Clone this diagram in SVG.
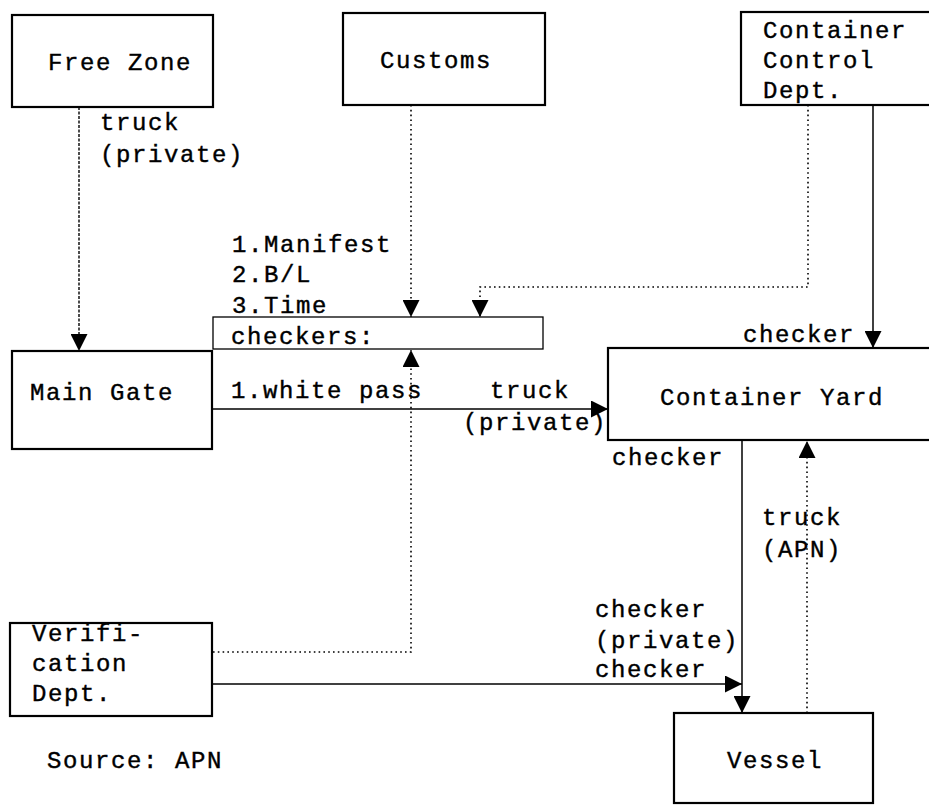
<svg xmlns="http://www.w3.org/2000/svg" width="929" height="805" viewBox="0 0 929 805">
  <style>
    .box { fill: #fff; stroke: #000; stroke-width: 2.2; }
    .thin { fill: none; stroke: #000; stroke-width: 1.3; }
    .solid { fill: none; stroke: #000; stroke-width: 1.5; }
    .dot { fill: none; stroke: #000; stroke-width: 1.6; stroke-dasharray: 1.6 3.2; }
    .dash { fill: none; stroke: #000; stroke-width: 1.4; stroke-dasharray: 3 1.5; }
    text { font-family: "Liberation Mono", "DejaVu Sans Mono", monospace; font-size: 24px; letter-spacing: 1.6px; fill: #000; stroke: #000; stroke-width: 0.4px; }
  </style>
  <defs>
    <marker id="arrow" viewBox="0 0 17 17" refX="17" refY="8.5" markerWidth="17" markerHeight="17" markerUnits="userSpaceOnUse" orient="auto">
      <path d="M0,0 L17,8.5 L0,17 z" fill="#000"/>
    </marker>
  </defs>

  <rect width="929" height="805" fill="#fff"/>

  <!-- connectors -->
  <g id="connectors">
    <!-- Free Zone to Main Gate -->
    <path class="dash" d="M79,107 V351" marker-end="url(#arrow)"/>
    <!-- Customs to checkers -->
    <path class="dot" d="M411,105 V317" marker-end="url(#arrow)"/>
    <!-- Container Control Dept. to checkers -->
    <path class="dot" d="M808,105 V287 H480 V317" marker-end="url(#arrow)"/>
    <!-- Container Control Dept. to Container Yard -->
    <path class="solid" d="M873,105 V348" marker-end="url(#arrow)"/>
    <!-- Main Gate to Container Yard -->
    <path class="solid" d="M212,409 H608" marker-end="url(#arrow)"/>
    <!-- Verification Dept. to checkers -->
    <path class="dot" d="M213,652 H411 V350" marker-end="url(#arrow)"/>
    <!-- Verification Dept. to Vessel -->
    <path class="solid" d="M212,684 H742" marker-end="url(#arrow)"/>
    <!-- Container Yard to Vessel -->
    <path class="solid" d="M742,440 V713" marker-end="url(#arrow)"/>
    <!-- Vessel to Container Yard -->
    <path class="dot" d="M807,713 V441" marker-end="url(#arrow)"/>
  </g>

  <!-- nodes -->
  <g id="free-zone">
    <rect class="box" x="12" y="15" width="201" height="92"/>
    <text x="48" y="70">Free Zone</text>
  </g>
  <g id="customs">
    <rect class="box" x="343" y="13" width="202" height="92"/>
    <text x="380" y="68">Customs</text>
  </g>
  <g id="container-control">
    <rect class="box" x="741" y="12" width="200" height="93"/>
    <text x="763" y="38">Container</text>
    <text x="763" y="68">Control</text>
    <text x="763" y="98">Dept.</text>
  </g>
  <g id="checkers">
    <rect class="thin" x="213" y="317" width="330" height="32"/>
    <text x="231" y="344">checkers:</text>
  </g>
  <g id="main-gate">
    <rect class="box" x="12" y="351" width="200" height="98"/>
    <text x="30" y="400">Main Gate</text>
  </g>
  <g id="container-yard">
    <rect class="box" x="608" y="348" width="340" height="92"/>
    <text x="660" y="405">Container Yard</text>
  </g>
  <g id="verification">
    <rect class="box" x="10" y="623" width="202" height="93"/>
    <text x="32" y="641">Verifi-</text>
    <text x="32" y="671">cation</text>
    <text x="32" y="701">Dept.</text>
  </g>
  <g id="vessel">
    <rect class="box" x="674" y="713" width="199" height="90"/>
    <text x="727" y="768">Vessel</text>
  </g>

  <!-- connector labels -->
  <g id="labels">
    <text x="100" y="130">truck</text>
    <text x="100" y="162">(private)</text>
    <text x="232" y="252">1.Manifest</text>
    <text x="232" y="282">2.B/L</text>
    <text x="232" y="313">3.Time</text>
    <text x="743" y="342">checker</text>
    <text x="231" y="398">1.white pass</text>
    <text x="490" y="398">truck</text>
    <text x="463" y="430">(private)</text>
    <text x="612" y="465">checker</text>
    <text x="762" y="525">truck</text>
    <text x="762" y="557">(APN)</text>
    <text x="595" y="617">checker</text>
    <text x="595" y="648">(private)</text>
    <text x="595" y="677">checker</text>
    <text x="47" y="768">Source: APN</text>
  </g>
</svg>
